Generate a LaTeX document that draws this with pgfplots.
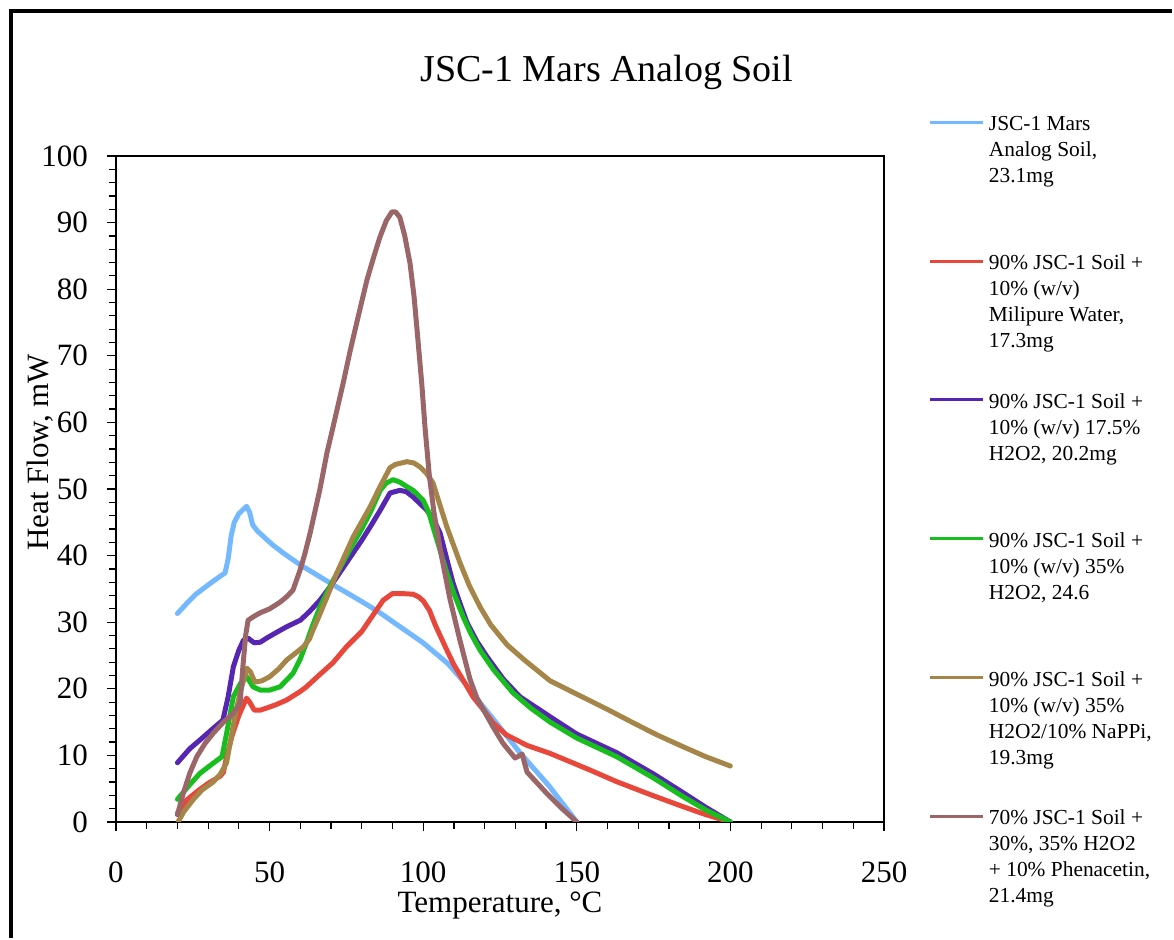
\documentclass[border=0pt]{standalone}
\usepackage{fontspec}
\setmainfont{Liberation Serif}
\usepackage{pgfplots}
\pgfplotsset{compat=1.18}
\definecolor{cblue}{RGB}{116,184,255}
\definecolor{cred}{RGB}{232,72,60}
\definecolor{cpurple}{RGB}{86,38,178}
\definecolor{cgreen}{RGB}{24,190,30}
\definecolor{cgold}{RGB}{166,134,72}
\definecolor{cbrown}{RGB}{155,102,104}
\newcommand{\more}[1]{\addlegendimage{empty legend}\addlegendentry{#1}}
\newcommand{\last}[2]{\addlegendimage{empty legend}\addlegendentry[text depth=#1]{#2}}
\begin{document}
\begin{tikzpicture}
\draw[line width=2pt] (-52.25pt,-58pt) -- (-52.25pt,405.25pt) -- (528pt,405.25pt);
\begin{axis}[
  scale only axis, width=384pt, height=333pt,
  xmin=0, xmax=250, ymin=0, ymax=100,
  xtick={0,50,...,250}, ytick={0,10,...,100},
  minor x tick num=4, minor y tick num=4,
  tick align=outside, tick pos=left,
  major tick length=4.5pt, minor tick length=3.5pt,
  axis line style={line width=1.2pt},
  every tick/.style={black, line width=0.6pt},
  /pgf/number format/assume math mode=true,
  tick label style={font=\fontsize{15.5}{18}\selectfont},
  xticklabel style={yshift=-12pt},
  yticklabel style={xshift=-6pt},
  title={JSC-1 Mars Analog Soil},
  title style={at={(axis description cs:0.639,1.0945)}, anchor=base, font=\fontsize{19}{22}\selectfont},
  xlabel={Temperature, °C},
  xlabel style={at={(axis description cs:0.5,-0.1366)}, anchor=base, font=\fontsize{15.5}{18}\selectfont},
  ylabel={Heat Flow, mW},
  ylabel style={at={(axis description cs:-0.0885,0.555)}, anchor=base, font=\fontsize{15.5}{18}\selectfont},
  legend style={at={(axis description cs:1.0585,1.0616)}, anchor=north west, draw=none, fill=none,
    inner sep=0pt, outer sep=0pt, row sep=0pt,
    font=\fontsize{10.7}{13}\selectfont,
    /tikz/every odd column/.append style={column sep=2pt},
    nodes={inner sep=0pt, outer sep=0pt, text height=8pt, text depth=5pt}, cells={anchor=base west}},
  legend image code/.code={\draw[#1, line width=1.5pt, line cap=butt] (0pt,4.3pt) -- (26.5pt,4.3pt);},
  every axis plot/.append style={line width=2.5pt, line join=round, line cap=round, no markers},
]
\addplot[cblue] coordinates {
(20,31.3)(23,32.8)(26,34.2)(30,35.6)(33,36.6)(35.5,37.4)(36.5,39.5)(37.5,43)(38.5,45)(40,46.3)(42.5,47.4)(43.5,46.5)(44.5,44.6)(46,43.7)(51,41.6)(55,40.2)(60,38.6)(70,35.8)(80,33.1)(86,31.4)(90,30.1)(100,26.9)(108,23.8)(116,19.6)(118.5,17.9)(125,14.2)(131.5,10.4)(141,5.4)(150,0)
};
\addlegendentry{JSC-1 Mars}
\more{Analog Soil,}
\last{35.4pt}{23.1mg}
\addplot[cred] coordinates {
(20,1.3)(23,3.3)(27,4.8)(30,5.8)(34,6.9)(35,7.5)(36,9.8)(38,13.3)(40,16)(42.5,18.6)(43.5,18)(45,16.8)(47,16.8)(49,17.1)(52,17.6)(55.5,18.3)(60,19.6)(62,20.3)(66,22)(70.6,23.9)(75,26.3)(80,28.6)(84,31.3)(87,33.3)(90,34.3)(93,34.3)(96.7,34.2)(98.5,33.8)(100,33.2)(102,31.8)(104,29.5)(107.7,25.8)(110,23.6)(113,21.3)(116.2,18.8)(120,16.6)(122.7,14.9)(127,13.1)(133.8,11.5)(141.3,10.3)(154.3,7.8)(163,6.05)(174,4.1)(184.6,2.3)(192,1.1)(200,0)
};
\addlegendentry{90\% JSC-1 Soil +}
\more{10\% (w/v)}
\more{Milipure Water,}
\last{22.4pt}{17.3mg}
\addplot[cpurple] coordinates {
(20,8.9)(24,11)(27.3,12.3)(31,13.8)(34.8,15.3)(36.5,18.8)(38.2,23.3)(40,25.8)(41.5,27.3)(43,27.6)(45,26.9)(47,27)(49,27.6)(52,28.4)(55.5,29.3)(60,30.3)(63,31.6)(66.4,33.3)(70,35.5)(77.2,40.4)(80,42.3)(83,44.5)(86,46.8)(89.2,49.4)(92.4,49.8)(94.5,49.6)(96.7,48.8)(99,47.8)(101.2,46.8)(103.5,45.3)(105.5,43.4)(107.5,39.8)(109.7,35.9)(112,32.8)(114.3,29.9)(117.5,27.1)(120.8,24.8)(126,21.5)(131.5,18.8)(141.3,15.8)(150,13.2)(163,10.4)(175,7.2)(184.6,4.4)(192,2.2)(200,0)
};
\addlegendentry{90\% JSC-1 Soil +}
\more{10\% (w/v) 17.5\%}
\last{35.4pt}{H2O2, 20.2mg}
\addplot[cgreen] coordinates {
(20,3.4)(24,5.6)(27.3,7.3)(31,8.6)(34.5,9.8)(36,13.3)(38.2,18.8)(40.5,20.8)(42.6,21.8)(44.6,20.3)(47,19.8)(50,19.8)(53.4,20.3)(57.6,22.3)(60,24.5)(62,26.9)(64,29.5)(66.4,32.3)(70,35.7)(77.2,41.8)(80,44)(83,46.7)(86,49.8)(88,50.9)(90.2,51.4)(92.5,51)(94.5,50.4)(96.7,49.8)(100,48.3)(101.8,46.5)(103.2,44.3)(105.5,40.8)(107.7,37.4)(110,34.3)(113,30.8)(115.5,28.3)(118.5,25.8)(123,22.8)(129.2,19.4)(135,17.1)(141.3,15)(150,12.6)(163,9.8)(175,6.6)(184.6,3.8)(192,1.8)(200,0)
};
\addlegendentry{90\% JSC-1 Soil +}
\more{10\% (w/v) 35\%}
\last{35.4pt}{H2O2, 24.6}
\addplot[cgold] coordinates {
(20.2,0)(22,1.5)(25,3.3)(28,4.8)(31.6,6)(34,7.2)(36,8.9)(37.7,13.3)(39,16.5)(40.4,19.4)(42.6,23.1)(43.8,22.5)(45.2,21)(47.5,21.2)(50,21.8)(53,23)(55.5,24.3)(58,25.2)(61,26.3)(63,27.5)(64.1,28.8)(66,30.8)(68.7,33.8)(72,37.5)(77.2,42.8)(82.7,47.3)(86,50.4)(89.2,53.2)(91,53.7)(94.7,54.1)(97,53.9)(99,53.3)(101,52.4)(103.2,50.9)(105.5,47.5)(107.7,44.3)(110,41.4)(112,38.9)(115,35.5)(118.5,32.3)(122,29.6)(127.3,26.6)(133,24.3)(141.3,21.2)(150,19.2)(160,16.9)(168.3,14.9)(176,13.1)(184.6,11.3)(192,9.8)(200,8.4)
};
\addlegendentry{90\% JSC-1 Soil +}
\more{10\% (w/v) 35\%}
\more{H2O2/10\% NaPPi,}
\last{22.4pt}{19.3mg}
\addplot[cbrown] coordinates {
(20,1.1)(21.9,4.3)(24,7.3)(26.3,9.8)(29,11.8)(31.6,13.3)(35,15)(38.2,16.3)(40.4,17.9)(41.3,23.3)(42.2,28)(43,30.3)(45,30.9)(46.9,31.4)(50,32)(53.4,33)(55.5,33.8)(57.6,34.8)(59.9,37.8)(61.5,40.3)(63.2,43.4)(66.4,50)(68.7,55.5)(70.6,59.2)(72,62)(74,66)(76.2,70.7)(79,76.2)(81.7,81.4)(84,85)(85.9,87.8)(88,90.3)(89.8,91.6)(91,91.6)(92.4,90.8)(94,88)(95.7,83.9)(97,79)(98,73.9)(99.5,66)(100.6,59.2)(102,52)(103.5,46.5)(105.5,41)(108.7,33.5)(112,27.2)(115.2,21.5)(117.5,18.6)(122.7,14.3)(126,11.8)(129.9,9.6)(131.5,10)(132.2,10.2)(133.8,7.5)(140,4.4)(145,2.1)(150,0)
};
\addlegendentry{70\% JSC-1 Soil +}
\more{30\%, 35\% H2O2}
\more{+ 10\% Phenacetin,}
\more{21.4mg}
\end{axis}
\path (-58pt,-59pt) rectangle (529pt,411pt);
\end{tikzpicture}
\end{document}
